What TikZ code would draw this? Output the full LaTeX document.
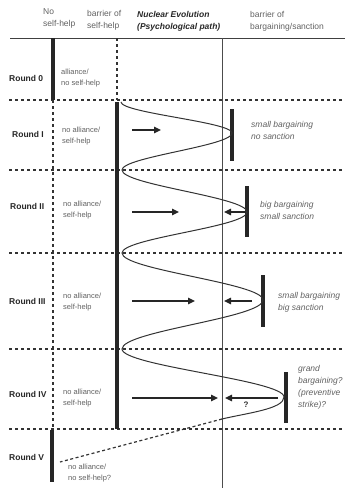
\documentclass[tikz,border=0pt]{standalone}
\usepackage{fontspec}
\setmainfont{Liberation Sans}
\usetikzlibrary{arrows.meta}
\definecolor{tg}{gray}{0.38}
\definecolor{lg}{gray}{0.3}
\begin{document}
\begin{tikzpicture}[x=1pt,y=-1pt,
  tbar/.style={line width=3.5pt, black!85},
  dotline/.style={line width=1.3pt, black!80, dash pattern=on 3pt off 3pt},
  arr/.style={line width=1.3pt, black!85, -{Triangle[length=7pt,width=6.5pt]}},
  rnd/.style={font=\fontsize{8.5}{10}\selectfont\bfseries, text=black!85, inner sep=0, anchor=west},
  hdr/.style={font=\fontsize{8.5}{12}\selectfont, text=tg, align=left, inner sep=0, anchor=west},
  lbl/.style={font=\fontsize{7.5}{11}\selectfont, text=tg, align=left, inner sep=0, anchor=west},
  rlbl/.style={font=\fontsize{8.5}{12}\selectfont\itshape, text=tg, align=left, inner sep=0, anchor=west},
]
\useasboundingbox (0,0) rectangle (345,488);
% headers
\node[hdr] (hNo) at (43,18) {No\\self-help};
\node[hdr] (hBs) at (87,20.5) {barrier of\\self-help};
\node[hdr, font=\fontsize{8.5}{12}\selectfont\bfseries\itshape, text=black!85] (hNe) at (137,21) {Nuclear Evolution\\(Psychological path)};
\node[hdr] (hBb) at (250,21) {barrier of\\bargaining/sanction};
% grid
\draw[line width=1pt, black!75] (10,38) -- (345,38);
\foreach \yy in {100,170,253,349,429} \draw[dotline] (9,\yy) -- (345,\yy);
\draw[line width=0.8pt, black!70] (222,38) -- (222,488);
\draw[tbar] (53,38) -- (53,100);
\draw[dotline] (53,100) -- (53,429);
\draw[tbar] (52,430) -- (52,482);
\draw[dotline] (117,38) -- (117,100);
\draw[tbar] (117,102) -- (117,429);
% right bars
\draw[tbar] (232,109) -- (232,161);
\draw[tbar] (247,186) -- (247,237);
\draw[tbar] (263,275) -- (263,327);
\draw[tbar] (286,372) -- (286,423);
% round labels
\node[rnd] (r0) at (9,78) {Round 0};
\node[rnd] (r1) at (12,134) {Round I};
\node[rnd] (r2) at (10,206) {Round II};
\node[rnd] (r3) at (9,301) {Round III};
\node[rnd] (r4) at (9,394) {Round IV};
\node[rnd] (r5) at (9,457) {Round V};
% left labels
\node[lbl] (l0) at (61,78) {alliance/\\no self-help};
\node[lbl] (l1) at (62,136) {no alliance/\\self-help};
\node[lbl] (l2) at (63,210.5) {no alliance/\\self-help};
\node[lbl] (l3) at (63,302.5) {no alliance/\\self-help};
\node[lbl] (l4) at (63,398) {no alliance/\\self-help};
\node[lbl] (l5) at (68,473) {no alliance/\\no self-help?};
% right labels
\node[rlbl] (g1) at (251,130) {small bargaining\\no sanction};
\node[rlbl] (g2) at (260,210.5) {big bargaining\\small sanction};
\node[rlbl] (g3) at (278,302.5) {small bargaining\\big sanction};
\node[rlbl] (g4) at (298,387.5) {grand\\bargaining?\\(preventive\\strike)?};
% curve
\coordinate (s) at (121,102);
\coordinate (p1) at (232,133);
\coordinate (t1) at (122,170);
\coordinate (p2) at (247,212);
\coordinate (t2) at (122,253);
\coordinate (p3) at (263,300);
\coordinate (t3) at (122,349);
\coordinate (p4) at (284,397);
\coordinate (e) at (222,419);
\coordinate (v) at (60,462);
\draw[line width=1pt, black!80]
  (s) .. controls +(0,11) and +(0,-11) .. (p1)
      .. controls +(0,13) and +(0,-13) .. (t1)
      .. controls +(0,15) and +(0,-15) .. (p2)
      .. controls +(0,15) and +(0,-15) .. (t2)
      .. controls +(0,17) and +(0,-17) .. (p3)
      .. controls +(0,18) and +(0,-18) .. (t3)
      .. controls +(0,17) and +(0,-17) .. (p4)
      .. controls +(0,12) and +(25,-6) .. (e);
\draw[line width=1.2pt, black!80, dash pattern=on 3pt off 2.5pt] (e) -- (v);
% arrows
\coordinate (a1s) at (132,130); \coordinate (a1e) at (161,130);
\coordinate (a2s) at (132,212); \coordinate (a2e) at (179,212);
\coordinate (b2s) at (245,212); \coordinate (b2e) at (224,212);
\coordinate (a3s) at (132,301); \coordinate (a3e) at (195,301);
\coordinate (b3s) at (252,301); \coordinate (b3e) at (224,301);
\coordinate (a4s) at (132,398); \coordinate (a4e) at (218,398);
\coordinate (b4s) at (278,398); \coordinate (b4e) at (225,398);
\draw[arr] (a1s) -- (a1e);
\draw[arr] (a2s) -- (a2e);
\draw[arr] (b2s) -- (b2e);
\draw[arr] (a3s) -- (a3e);
\draw[arr] (b3s) -- (b3e);
\draw[arr] (a4s) -- (a4e);
\draw[arr] (b4s) -- (b4e);
\node[font=\fontsize{8}{10}\selectfont\bfseries, text=black!80, inner sep=0] (q) at (246,405) {?};
\end{tikzpicture}
\end{document}
